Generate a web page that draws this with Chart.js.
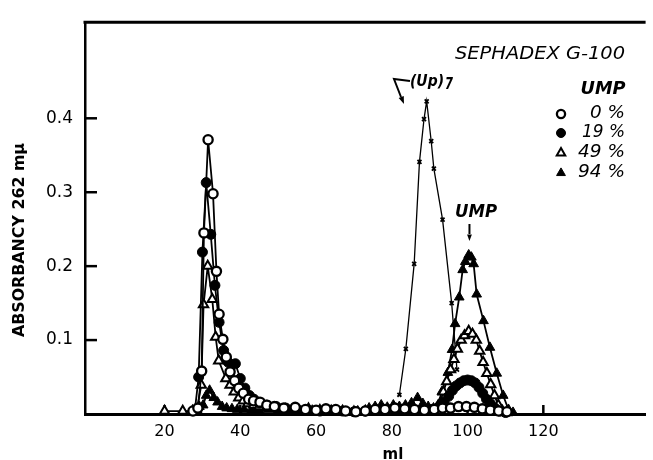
<!DOCTYPE html>
<html>
<head>
<meta charset="utf-8">
<script src="https://cdn.jsdelivr.net/npm/chart.js@4.4.1/dist/chart.umd.min.js"></script>
<style>
  body { margin: 0; background: #fff; }
  canvas { display: block; }
</style>
</head>
<body>
<canvas id="chart" width="653" height="460"></canvas>
<script>
// elution volume (ml) and absorbancy at 262 mu, one pair of arrays per run
const ml0 = [27.5, 28.8, 29.8, 30.4, 31.5, 32.8, 33.7, 34.4, 35.4, 36.3, 37.3, 38.5, 39.6, 40.8, 42.2, 43.5, 45.2, 47.0, 49.0, 51.5,
  54.5, 57.2, 60.0, 62.6, 65.2, 67.8, 70.5, 73.0, 75.6, 78.2, 80.8, 83.4, 86.0, 88.6, 91.2, 93.4, 95.5, 97.6, 99.7, 101.8,
  103.9, 106.0, 108.2, 110.4];
const abs0 = [0.004, 0.008, 0.058, 0.245, 0.371, 0.298, 0.193, 0.135, 0.101, 0.077, 0.057, 0.045, 0.035, 0.028, 0.020, 0.018, 0.016, 0.012, 0.010, 0.008,
  0.009, 0.006, 0.005, 0.007, 0.006, 0.004, 0.003, 0.004, 0.006, 0.006, 0.008, 0.007, 0.006, 0.005, 0.006, 0.008, 0.008, 0.010, 0.010, 0.009,
  0.007, 0.005, 0.004, 0.003];

const ml19 = [28.0, 29.0, 30.0, 31.0, 32.2, 33.3, 34.4, 35.6, 36.8, 38.7, 40.0, 41.2, 42.4, 43.6, 45.0, 47.0, 49.5, 52.0, 55.0, 58.0,
  61.0, 64.0, 67.0, 70.0, 73.0, 76.0, 79.0, 82.0, 85.0, 88.0, 90.5, 92.5, 93.8, 95.0, 96.0, 97.0, 98.0, 99.0, 100.0, 101.0,
  102.0, 103.0, 104.0, 105.0, 106.0, 107.2, 108.5, 110.0];
const abs19 = [0.005, 0.050, 0.219, 0.313, 0.243, 0.174, 0.124, 0.086, 0.070, 0.068, 0.048, 0.035, 0.025, 0.020, 0.015, 0.012, 0.010, 0.008, 0.006, 0.005,
  0.004, 0.005, 0.004, 0.003, 0.004, 0.005, 0.006, 0.006, 0.005, 0.006, 0.006, 0.010, 0.016, 0.024, 0.032, 0.038, 0.042, 0.045, 0.046, 0.045,
  0.042, 0.036, 0.028, 0.020, 0.014, 0.008, 0.004, 0.002];

const ml49 = [20.0, 24.8, 27.4, 28.5, 29.7, 30.3, 31.4, 32.6, 33.5, 34.3, 36.2, 37.3, 38.4, 39.6, 40.8, 42.0, 43.5, 45.0, 47.0, 49.5,
  52.0, 55.0, 58.0, 61.0, 64.0, 67.0, 70.0, 73.0, 76.0, 79.0, 82.0, 85.0, 88.0, 90.5, 92.7, 93.6, 94.5, 95.5, 96.4, 97.3,
  98.3, 99.2, 100.3, 101.3, 102.3, 103.2, 104.1, 105.1, 106.1, 107.1, 108.1, 109.2, 110.3];
const abs49 = [0.004, 0.004, 0.004, 0.005, 0.039, 0.148, 0.200, 0.155, 0.104, 0.072, 0.048, 0.039, 0.030, 0.022, 0.018, 0.014, 0.012, 0.010, 0.008, 0.008,
  0.006, 0.005, 0.007, 0.005, 0.004, 0.004, 0.003, 0.004, 0.005, 0.004, 0.005, 0.006, 0.005, 0.004, 0.014, 0.030, 0.044, 0.060, 0.074, 0.088,
  0.100, 0.106, 0.112, 0.108, 0.100, 0.085, 0.070, 0.055, 0.040, 0.025, 0.012, 0.004, 0.002];

const ml94 = [27.5, 28.6, 29.2, 30.2, 31.0, 31.9, 33.0, 34.0, 35.2, 36.4, 37.8, 39.2, 41.0, 43.0, 45.0, 47.5, 50.0, 53.0, 56.0, 59.0,
  62.0, 65.0, 68.0, 71.0, 74.0, 75.6, 77.2, 78.8, 80.4, 82.0, 83.6, 85.2, 86.8, 88.2, 89.6, 91.0, 92.2, 93.2, 94.8, 95.9,
  96.7, 97.8, 98.7, 99.4, 100.3, 101.0, 101.6, 102.4, 104.2, 105.9, 107.7, 109.4, 110.8, 112.0];
const abs94 = [0.002, 0.004, 0.010, 0.012, 0.025, 0.032, 0.022, 0.016, 0.010, 0.008, 0.007, 0.006, 0.006, 0.005, 0.005, 0.006, 0.005, 0.004, 0.004, 0.005,
  0.004, 0.003, 0.003, 0.004, 0.008, 0.010, 0.012, 0.009, 0.012, 0.010, 0.012, 0.015, 0.022, 0.014, 0.010, 0.008, 0.012, 0.030, 0.056, 0.087,
  0.122, 0.158, 0.195, 0.206, 0.215, 0.212, 0.203, 0.162, 0.126, 0.090, 0.055, 0.025, 0.006, 0.002];

// (Up)7 marker run
const mlUp7 = [82.0, 83.7, 85.9, 87.3, 88.5, 89.2, 90.4, 91.1, 93.4, 95.8, 97.2];
const absUp7 = [0.026, 0.088, 0.203, 0.341, 0.399, 0.423, 0.369, 0.332, 0.263, 0.150, 0.060];

const legendLabels = ['0 %', '19 %', '49 %', '94 %'];
const xTicks = [20, 40, 60, 80, 100, 120];
const yTicks = [0.1, 0.2, 0.3, 0.4];

const FONT = "'DejaVu Sans', 'Liberation Sans', sans-serif";
const pts = (xs, ys) => xs.map((v, i) => ({ x: v, y: ys[i] }));

// marker styles for the four runs, same order as legendLabels
const markers = [
  { pointStyle: 'circle', radius: 4.6, fill: '#fff', border: 2.3 },
  { pointStyle: 'circle', radius: 5, fill: '#000', border: 1 },
  { pointStyle: 'triangle', radius: 5.4, fill: '#fff', border: 2 },
  { pointStyle: 'triangle', radius: 5.6, fill: '#000', border: 1 }
];

function runDataset(data, m, order) {
  return {
    data: data,
    order: order,
    borderColor: '#000',
    borderWidth: 1.8,
    pointStyle: m.pointStyle,
    pointRadius: m.radius,
    pointBackgroundColor: m.fill,
    pointBorderColor: '#000',
    pointBorderWidth: m.border,
    tension: 0,
    clip: false
  };
}

function fitText(ctx, text, cx, cy, w, font, angle) {
  ctx.save();
  ctx.font = font;
  const m = ctx.measureText(text).width;
  ctx.translate(cx, cy);
  ctx.rotate(angle || 0);
  ctx.scale(w / m, 1);
  ctx.textAlign = 'center';
  ctx.textBaseline = 'middle';
  ctx.fillText(text, 0, 0);
  ctx.restore();
}

function arrowHead(ctx, x1, y1, x2, y2, size) {
  const a = Math.atan2(y2 - y1, x2 - x1);
  ctx.beginPath();
  ctx.moveTo(x2, y2);
  ctx.lineTo(x2 - size * Math.cos(a - 0.35), y2 - size * Math.sin(a - 0.35));
  ctx.lineTo(x2 - size * Math.cos(a + 0.35), y2 - size * Math.sin(a + 0.35));
  ctx.closePath();
  ctx.fill();
}

const decor = {
  id: 'decor',
  beforeDatasetsDraw(chart) {
    const { ctx, chartArea: a, scales: { x, y } } = chart;
    ctx.save();
    ctx.strokeStyle = '#000';
    ctx.lineWidth = 2.5;
    // inward tick marks
    yTicks.forEach(v => {
      const py = y.getPixelForValue(v);
      ctx.beginPath(); ctx.moveTo(a.left, py); ctx.lineTo(a.left + 12, py); ctx.stroke();
    });
    xTicks.forEach(v => {
      const px = x.getPixelForValue(v);
      ctx.beginPath(); ctx.moveTo(px, a.bottom); ctx.lineTo(px, a.bottom - 9); ctx.stroke();
    });
    // top frame
    ctx.lineWidth = 3;
    ctx.beginPath(); ctx.moveTo(a.left - 1.5, a.top); ctx.lineTo(a.right, a.top); ctx.stroke();
    ctx.restore();
  },
  afterDraw(chart) {
    const { ctx, scales: { x } } = chart;
    ctx.save();
    ctx.fillStyle = '#000';
    ctx.strokeStyle = '#000';

    // axis titles
    fitText(ctx, 'ABSORBANCY 262 m\u03bc', 20, 240, 194, 'bold 16px ' + FONT, -Math.PI / 2);
    ctx.font = 'bold 15px ' + FONT;
    ctx.textAlign = 'center';
    ctx.textBaseline = 'middle';
    ctx.fillText('ml', 393, 455);

    // legend block
    fitText(ctx, 'SEPHADEX G-100', 540, 55, 170, 'italic 17px ' + FONT);
    fitText(ctx, 'UMP', 603, 90, 45, 'italic bold 17px ' + FONT);
    const rowY = [114, 133, 153, 173];
    const rowW = [35, 43, 47, 47];
    legendLabels.forEach((lab, i) => {
      const m = markers[i];
      ctx.fillStyle = m.fill;
      ctx.strokeStyle = '#000';
      ctx.lineWidth = m.border;
      Chart.helpers.drawPoint(ctx, { pointStyle: m.pointStyle, radius: m.radius - 0.5, rotation: 0, borderWidth: m.border }, 561, rowY[i]);
      ctx.fillStyle = '#000';
      fitText(ctx, lab, 625 - rowW[i] / 2, rowY[i], rowW[i], 'italic 17px ' + FONT);
    });

    // (Up)7 label with bent arrow
    fitText(ctx, '(Up)', 427, 82, 34, 'italic bold 16px ' + FONT);
    fitText(ctx, '7', 449, 85, 8, 'italic bold 15px ' + FONT);
    ctx.lineWidth = 2;
    ctx.beginPath();
    ctx.moveTo(410, 81); ctx.lineTo(394, 79); ctx.lineTo(401, 97);
    ctx.stroke();
    arrowHead(ctx, 394, 79, 404, 104, 8);

    // UMP peak label with arrow
    fitText(ctx, 'UMP', 476, 213, 42, 'italic bold 17px ' + FONT);
    const ax = x.getPixelForValue(100.5);
    ctx.beginPath(); ctx.moveTo(ax, 224); ctx.lineTo(ax, 234); ctx.stroke();
    arrowHead(ctx, ax, 224, ax, 241, 7);
    ctx.restore();
  }
};

new Chart(document.getElementById('chart').getContext('2d'), {
  type: 'line',
  data: {
    datasets: [
      runDataset(pts(ml0, abs0), markers[0], 1),
      runDataset(pts(ml19, abs19), markers[1], 2),
      runDataset(pts(ml49, abs49), markers[2], 3),
      runDataset(pts(ml94, abs94), markers[3], 4),
      {
        data: pts(mlUp7, absUp7),
        order: 5,
        borderColor: '#000',
        borderWidth: 1.3,
        pointStyle: 'crossRot',
        pointRadius: 2.8,
        pointBorderColor: '#000',
        pointBorderWidth: 1.8,
        tension: 0,
        clip: false
      }
    ]
  },
  options: {
    responsive: false,
    devicePixelRatio: 1,
    animation: false,
    events: [],
    layout: { padding: { top: 14, right: 0, left: 0, bottom: 0 } },
    plugins: { legend: { display: false }, tooltip: { enabled: false } },
    scales: {
      x: {
        type: 'linear',
        min: -1,
        max: 147,
        afterBuildTicks: s => { s.ticks = xTicks.map(v => ({ value: v })); },
        afterFit: s => { s.height = 46; },
        ticks: { color: '#000', font: { family: FONT, size: 16 }, padding: 8, maxRotation: 0, autoSkip: false },
        grid: { display: false, drawTicks: false },
        border: { display: true, color: '#000', width: 3 }
      },
      y: {
        min: 0,
        max: 0.53,
        afterBuildTicks: s => { s.ticks = yTicks.map(v => ({ value: v })); },
        afterFit: s => { s.width = 85; },
        ticks: { color: '#000', font: { family: FONT, size: 17 }, padding: 12, callback: v => v.toFixed(1) },
        grid: { display: false, drawTicks: false },
        border: { display: true, color: '#000', width: 2.5 }
      }
    }
  },
  plugins: [decor]
});
</script>
</body>
</html>
